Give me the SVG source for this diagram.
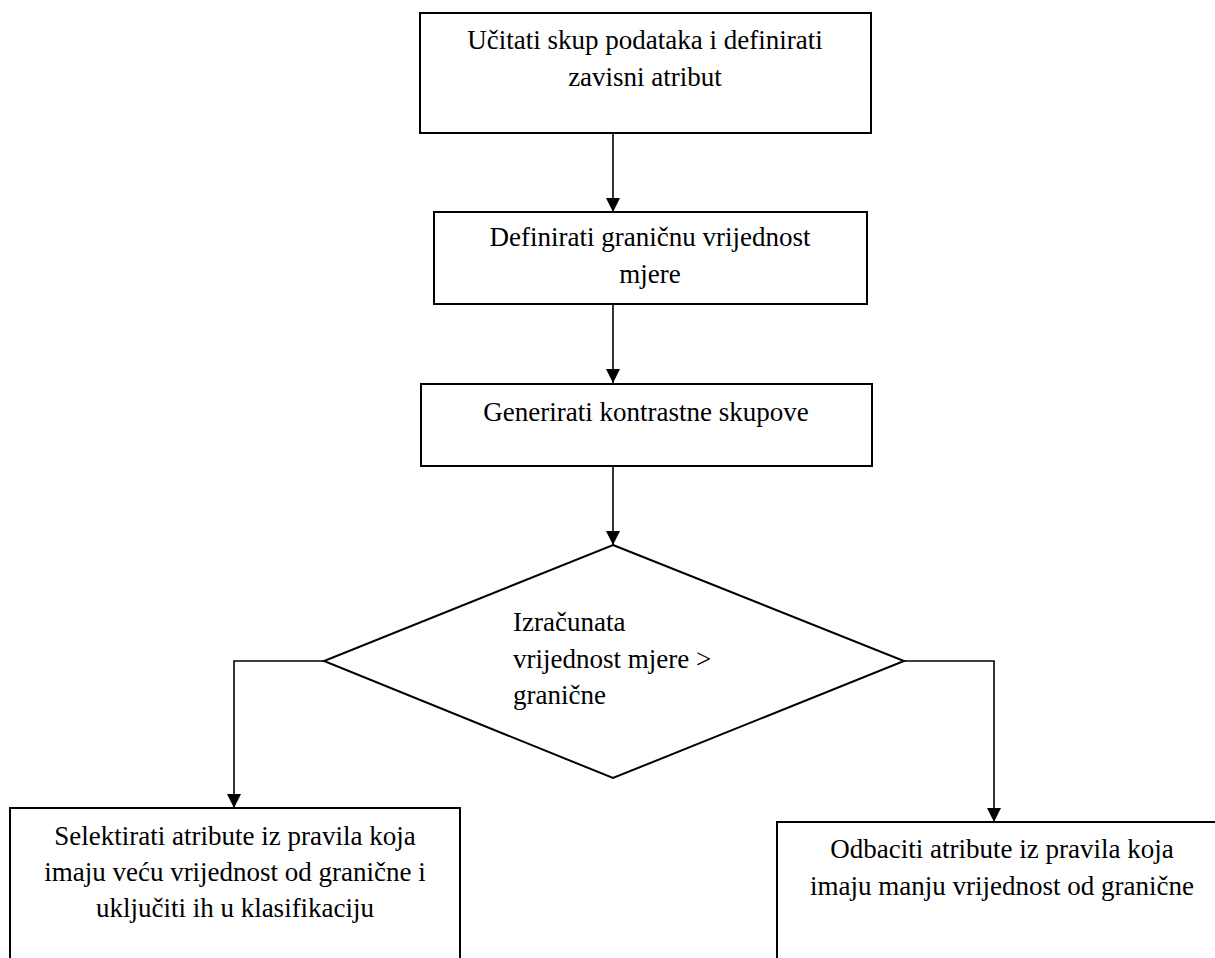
<svg xmlns="http://www.w3.org/2000/svg" width="1215" height="958" viewBox="0 0 1215 958">
  <style>
    .box { fill: #ffffff; stroke: #000000; stroke-width: 2; }
    .conn { fill: none; stroke: #000000; stroke-width: 1.6; }
    text { font-family: 'Liberation Serif', 'Times New Roman', Times, serif; font-size: 27px; fill: #000000; }
    .c { text-anchor: middle; }
  </style>
  <defs>
    <marker id="arrow" markerUnits="userSpaceOnUse" markerWidth="14" markerHeight="14" refX="14" refY="7" orient="auto">
      <path d="M0,0 L14,7 L0,14 z" fill="#000000"/>
    </marker>
  </defs>
  <rect width="1215" height="958" fill="#ffffff"/>

  <g id="connectors">
    <path class="conn" d="M613,133 V212" marker-end="url(#arrow)"/>
    <path class="conn" d="M613,304 V383" marker-end="url(#arrow)"/>
    <path class="conn" d="M613,466 V545" marker-end="url(#arrow)"/>
    <path class="conn" d="M324,661 H234 V808" marker-end="url(#arrow)"/>
    <path class="conn" d="M904,661 H994 V822" marker-end="url(#arrow)"/>
  </g>

  <g id="node-load">
    <rect class="box" x="420" y="13" width="451" height="120"/>
    <text class="c" x="645" y="49" font-family="Liberation Serif, serif">Učitati skup podataka i definirati</text>
    <text class="c" x="645" y="86" font-family="Liberation Serif, serif">zavisni atribut</text>
  </g>

  <g id="node-threshold">
    <rect class="box" x="434" y="212" width="433" height="92"/>
    <text class="c" x="650" y="246" font-family="Liberation Serif, serif">Definirati graničnu vrijednost</text>
    <text class="c" x="650" y="283" font-family="Liberation Serif, serif">mjere</text>
  </g>

  <g id="node-generate">
    <rect class="box" x="421" y="384" width="451" height="82"/>
    <text class="c" x="646" y="421" font-family="Liberation Serif, serif">Generirati kontrastne skupove</text>
  </g>

  <g id="node-decision">
    <polygon class="box" points="613,545 904,661 613,778 324,661"/>
    <text x="513" y="631" font-family="Liberation Serif, serif">Izračunata</text>
    <text x="513" y="668" font-family="Liberation Serif, serif">vrijednost mjere &gt;</text>
    <text x="513" y="704" font-family="Liberation Serif, serif">granične</text>
  </g>

  <g id="node-select">
    <rect class="box" x="10" y="808" width="450" height="170"/>
    <text class="c" x="235" y="845" font-family="Liberation Serif, serif">Selektirati atribute iz pravila koja</text>
    <text class="c" x="235" y="881" font-family="Liberation Serif, serif">imaju veću vrijednost od granične i</text>
    <text class="c" x="235" y="917" font-family="Liberation Serif, serif">uključiti ih u klasifikaciju</text>
  </g>

  <g id="node-reject">
    <rect class="box" x="777" y="822" width="450" height="160"/>
    <text class="c" x="1002" y="858" font-family="Liberation Serif, serif">Odbaciti atribute iz pravila koja</text>
    <text class="c" x="1002" y="895" font-family="Liberation Serif, serif">imaju manju vrijednost od granične</text>
  </g>
</svg>
